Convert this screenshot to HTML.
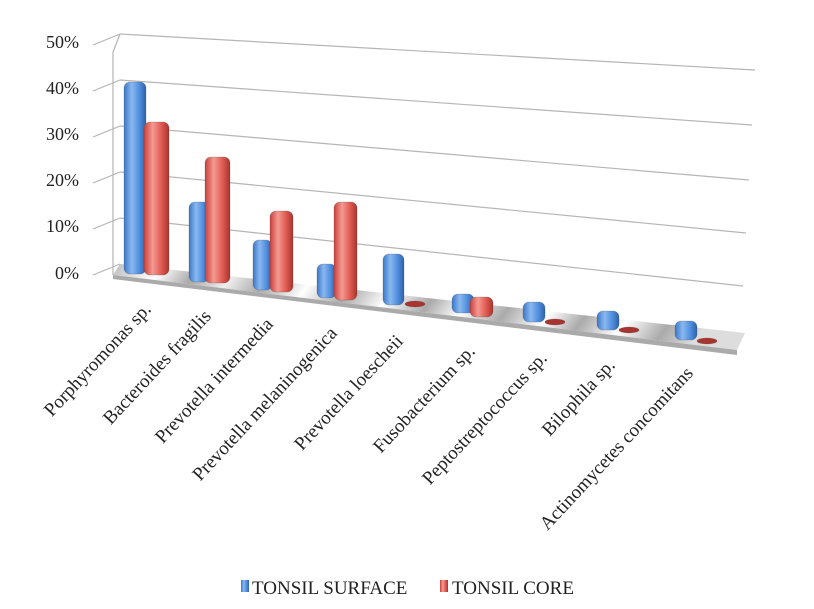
<!DOCTYPE html>
<html><head><meta charset="utf-8"><style>
html,body{margin:0;padding:0;background:#fff;}
svg{display:block;}
text{font-family:"Liberation Serif",serif;fill:#222;}
</style></head><body>
<svg width="814" height="609" viewBox="0 0 814 609" xmlns="http://www.w3.org/2000/svg">
<defs>
<linearGradient id="bl" x1="0" x2="1" y1="0" y2="0">
<stop offset="0" stop-color="#3a78c8"/><stop offset="0.35" stop-color="#8ab8f0"/><stop offset="0.7" stop-color="#4f8ede"/><stop offset="1" stop-color="#2f62a8"/></linearGradient>
<linearGradient id="rd" x1="0" x2="1" y1="0" y2="0">
<stop offset="0" stop-color="#c8403c"/><stop offset="0.35" stop-color="#f59a92"/><stop offset="0.7" stop-color="#e05a52"/><stop offset="1" stop-color="#a83430"/></linearGradient>
<linearGradient id="fl" x1="0" x2="1" y1="0" y2="0.1">
<stop offset="0" stop-color="#bbb"/><stop offset="0.08" stop-color="#fff"/><stop offset="0.14" stop-color="#aaa"/><stop offset="0.2" stop-color="#eee"/><stop offset="0.26" stop-color="#aaa"/><stop offset="0.33" stop-color="#fff"/><stop offset="0.4" stop-color="#aaa"/><stop offset="0.47" stop-color="#fff"/><stop offset="0.54" stop-color="#aaa"/><stop offset="0.6" stop-color="#fff"/><stop offset="0.67" stop-color="#aaa"/><stop offset="0.74" stop-color="#fff"/><stop offset="0.8" stop-color="#aaa"/><stop offset="0.87" stop-color="#fff"/><stop offset="0.94" stop-color="#aaa"/><stop offset="1" stop-color="#ddd"/></linearGradient>
</defs>
<g stroke="#b5b5b5" stroke-width="1.2" fill="none">
<line x1="120" y1="34" x2="755" y2="70"/>
<line x1="120" y1="80" x2="752" y2="125"/>
<line x1="120" y1="126" x2="749" y2="180"/>
<line x1="120" y1="172" x2="746" y2="233"/>
<line x1="120" y1="218" x2="743" y2="286"/>
<line x1="113" y1="52" x2="113" y2="275"/>
<line x1="93" y1="45" x2="120" y2="34"/>
<line x1="93" y1="91" x2="120" y2="80"/>
<line x1="93" y1="137" x2="120" y2="126"/>
<line x1="93" y1="183" x2="120" y2="172"/>
<line x1="93" y1="229" x2="120" y2="218"/>
<line x1="93" y1="275" x2="120" y2="264"/>
<line x1="113" y1="52" x2="120" y2="34"/>
</g>
<polygon points="113,275 120,264 745,333 737,350" fill="url(#fl)"/>
<polygon points="113,275 737,350 737,355 113,279" fill="#aaa"/>
<g fill="#222" font-size="18">
<text x="79" y="48" text-anchor="end">50%</text>
<text x="79" y="94" text-anchor="end">40%</text>
<text x="79" y="140" text-anchor="end">30%</text>
<text x="79" y="186" text-anchor="end">20%</text>
<text x="79" y="232" text-anchor="end">10%</text>
<text x="79" y="279" text-anchor="end">0%</text>
</g>
<g stroke="#333" stroke-opacity="0.25" stroke-width="0.8">
<rect x="124" y="82" width="22" height="192" rx="6" fill="url(#bl)"/>
<rect x="144" y="122" width="25" height="153" rx="6" fill="url(#rd)"/>
<rect x="189" y="202" width="20" height="80" rx="6" fill="url(#bl)"/>
<rect x="205" y="157" width="25" height="126" rx="6" fill="url(#rd)"/>
<rect x="253" y="240" width="19" height="50" rx="6" fill="url(#bl)"/>
<rect x="270" y="211" width="23" height="81" rx="6" fill="url(#rd)"/>
<rect x="317" y="264" width="19" height="34" rx="6" fill="url(#bl)"/>
<rect x="334" y="202" width="23" height="98" rx="6" fill="url(#rd)"/>
<rect x="383" y="254" width="21" height="51" rx="6" fill="url(#bl)"/>
<ellipse cx="415" cy="304" rx="10" ry="3" fill="#a83430"/>
<rect x="452" y="294" width="22" height="19" rx="6" fill="url(#bl)"/>
<rect x="470" y="297" width="23" height="20" rx="6" fill="url(#rd)"/>
<rect x="523" y="302" width="22" height="20" rx="6" fill="url(#bl)"/>
<ellipse cx="555" cy="322" rx="10" ry="3" fill="#a83430"/>
<rect x="597" y="311" width="22" height="19" rx="6" fill="url(#bl)"/>
<ellipse cx="629" cy="330" rx="10" ry="3" fill="#a83430"/>
<rect x="675" y="321" width="22" height="19" rx="6" fill="url(#bl)"/>
<ellipse cx="707" cy="341" rx="10" ry="3" fill="#a83430"/>
</g>
<g font-size="19">
<text transform="translate(152,310) rotate(-47)" text-anchor="end">Porphyromonas sp.</text>
<text transform="translate(212,317) rotate(-47)" text-anchor="end">Bacteroides fragilis</text>
<text transform="translate(274,325) rotate(-47)" text-anchor="end">Prevotella intermedia</text>
<text transform="translate(338,334) rotate(-47)" text-anchor="end">Prevotella melaninogenica</text>
<text transform="translate(404,342) rotate(-47)" text-anchor="end">Prevotella loescheii</text>
<text transform="translate(476,352) rotate(-47)" text-anchor="end">Fusobacterium sp.</text>
<text transform="translate(548,359) rotate(-47)" text-anchor="end">Peptostreptococcus sp.</text>
<text transform="translate(616,366) rotate(-47)" text-anchor="end">Bilophila sp.</text>
<text transform="translate(694,374) rotate(-47)" text-anchor="end">Actinomycetes concomitans</text>
</g>
<rect x="241" y="580" width="8" height="12" fill="url(#bl)"/>
<text x="252" y="594" font-size="19">TONSIL SURFACE</text>
<rect x="440" y="580" width="8" height="12" fill="url(#rd)"/>
<text x="452" y="594" font-size="19">TONSIL CORE</text>
</svg>
</body></html>
